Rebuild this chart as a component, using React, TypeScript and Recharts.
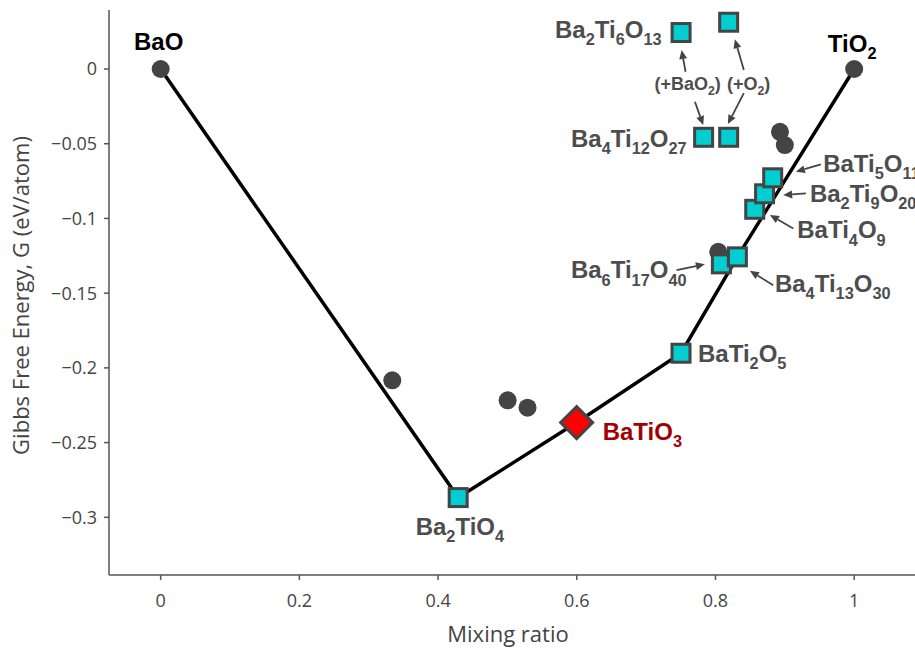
import React from "react";
import { ComposedChart, Scatter, XAxis, YAxis, ReferenceDot } from "recharts";

// convex hull (stable phases), ordered by mixing ratio
const hullNames = ["BaO", "Ba2TiO4", "BaTiO3", "BaTi2O5", "Ba4Ti13O30", "TiO2"];
const hullX = [0, 0.429, 0.5998, 0.7503, 0.8316, 1];
const hullG = [0, -0.2868, -0.2366, -0.1902, -0.1257, 0];

// end members + unlabeled phases (grey circles)
const circleNames = ["BaO", "TiO2", "c1", "c2", "c3", "c4", "c5", "c6"];
const circleX = [0, 1, 0.334, 0.5003, 0.529, 0.804, 0.893, 0.9];
const circleG = [0, 0, -0.2083, -0.2217, -0.2266, -0.1223, -0.042, -0.0509];

// Ba-Ti-O compounds (cyan squares)
const squareNames = [
  "Ba2TiO4", "BaTi2O5", "Ba6Ti17O40", "Ba4Ti13O30", "BaTi4O9", "Ba2Ti9O20",
  "BaTi5O11", "Ba4Ti12O27", "Ba4Ti12O27b", "Ba2Ti6O13", "Ba2Ti6O13b",
];
const squareX = [0.429, 0.7503, 0.8085, 0.8316, 0.8566, 0.8708, 0.8825, 0.7829, 0.819, 0.7504, 0.819];
const squareG = [-0.2868, -0.1902, -0.1304, -0.1257, -0.0939, -0.0835, -0.0728, -0.0457, -0.0457, 0.0244, 0.0313];

// target phase (red diamond)
const targetNames = ["BaTiO3"];
const targetX = [0.5998];
const targetG = [-0.2366];

const xTicks = [0, 0.2, 0.4, 0.6, 0.8, 1];
const yTicks = [-0.3, -0.25, -0.2, -0.15, -0.1, -0.05, 0];

const zip = (names: string[], xs: number[], gs: number[]) =>
  names.map((name, i) => ({ name, x: xs[i], g: gs[i] }));

const hull = zip(hullNames, hullX, hullG);
const circles = zip(circleNames, circleX, circleG);
const squares = zip(squareNames, squareX, squareG);
const targets = zip(targetNames, targetX, targetG);

const lookup: Record<string, { x: number; g: number }> = {};
[...circles, ...squares, ...targets].forEach((p) => (lookup[p.name] = p));

const GREY = "#444";
const LABEL = "#4d4d4d";

// annotation text, placed in px relative to the marker it belongs to
const labels = [
  { at: "BaO", text: "BaO", dx: -2, dy: -19, anchor: "middle", color: "#000", size: 24 },
  { at: "TiO2", text: "TiO_2", dx: -2, dy: -17, anchor: "middle", color: "#000", size: 24 },
  { at: "Ba2Ti6O13", text: "Ba_2Ti_6O_13", dx: -19.5, dy: 5, anchor: "end", color: LABEL, size: 24 },
  { at: "Ba2Ti6O13", text: "(+BaO_2)", dx: 6.5, dy: 57.5, anchor: "middle", color: LABEL, size: 18 },
  { at: "Ba2Ti6O13b", text: "(+O_2)", dx: 20, dy: 67.5, anchor: "middle", color: LABEL, size: 18 },
  { at: "Ba4Ti12O27", text: "Ba_4Ti_12O_27", dx: -17, dy: 9.5, anchor: "end", color: LABEL, size: 24 },
  { at: "BaTi5O11", text: "BaTi_5O_11", dx: 50.5, dy: -6, anchor: "start", color: LABEL, size: 24 },
  { at: "Ba2Ti9O20", text: "Ba_2Ti_9O_20", dx: 45.3, dy: 8, anchor: "start", color: LABEL, size: 24 },
  { at: "BaTi4O9", text: "BaTi_4O_9", dx: 42.5, dy: 29, anchor: "start", color: LABEL, size: 24 },
  { at: "Ba6Ti17O40", text: "Ba_6Ti_17O_40", dx: -34.8, dy: 14.5, anchor: "end", color: LABEL, size: 24 },
  { at: "Ba4Ti13O30", text: "Ba_4Ti_13O_30", dx: 37.5, dy: 35, anchor: "start", color: LABEL, size: 24 },
  { at: "BaTi2O5", text: "BaTi_2O_5", dx: 17, dy: 9, anchor: "start", color: LABEL, size: 24 },
  { at: "BaTiO3", text: "BaTiO_3", dx: 26, dy: 17, anchor: "start", color: "#a00000", size: 24 },
  { at: "Ba2TiO4", text: "Ba_2TiO_4", dx: 1.7, dy: 37.7, anchor: "middle", color: LABEL, size: 24 },
];

// arrows: tail (from) -> head (to), px relative to the marker
const arrows = [
  { at: "Ba2Ti6O13", from: [4.5, 39.2], to: [0.5, 17.5] },
  { at: "Ba4Ti12O27", from: [-8.7, -35.5], to: [-0.4, -12.2] },
  { at: "Ba2Ti6O13b", from: [15.2, 47.7], to: [6.2, 17] },
  { at: "Ba4Ti12O27b", from: [15.2, -44.2], to: [-0.8, -13.2] },
  { at: "BaTi5O11", from: [48.2, -13.4], to: [23.2, -6] },
  { at: "Ba2Ti9O20", from: [41.3, -0.4], to: [18.6, 1.3] },
  { at: "BaTi4O9", from: [38.5, 19.1], to: [15.2, 5.8] },
  { at: "Ba6Ti17O40", from: [-44.8, 6.2], to: [-16.5, 0.5] },
  { at: "Ba4Ti13O30", from: [35.8, 28.3], to: [12.5, 14] },
];

function Formula({ x, y, text, size, color, anchor }: any) {
  const parts = text.split(/(_\d+)/).filter(Boolean);
  const shift = size * 0.3;
  let cur = 0;
  return (
    <text
      x={x}
      y={y}
      textAnchor={anchor}
      fontFamily="'Liberation Sans', Arial, sans-serif"
      fontWeight="bold"
      fontSize={size}
      fill={color}
    >
      {parts.map((p: string, i: number) => {
        const sub = p.startsWith("_");
        const target = sub ? shift : 0;
        const dy = target - cur;
        cur = target;
        return (
          <tspan key={i} dy={dy} fontSize={sub ? size * 0.68 : size}>
            {sub ? p.slice(1) : p}
          </tspan>
        );
      })}
    </text>
  );
}

function Arrow({ cx, cy, from, to }: any) {
  const x1 = cx + from[0];
  const y1 = cy + from[1];
  const x2 = cx + to[0];
  const y2 = cy + to[1];
  const a = Math.atan2(y2 - y1, x2 - x1);
  const c = Math.cos(a);
  const s = Math.sin(a);
  const bx = x2 - 9 * c;
  const by = y2 - 9 * s;
  return (
    <g>
      <line x1={x1} y1={y1} x2={bx} y2={by} stroke={GREY} strokeWidth={1.8} />
      <polygon
        points={`${x2},${y2} ${bx - 4 * s},${by + 4 * c} ${bx + 4 * s},${by - 4 * c}`}
        fill={GREY}
      />
    </g>
  );
}

const fmt = (v: number) => (v === 0 ? "0" : v < 0 ? "\u2212" + String(Math.abs(v)) : String(v));

const tickStyle = { fill: GREY, fontSize: 18, fontFamily: "'Open Sans', sans-serif" };

export default function App() {
  return (
    <div style={{ position: "absolute", left: 0, top: 0 }}>
      <ComposedChart width={915} height={654} margin={{ top: 10, right: 0, bottom: 0, left: 0 }}>
        <XAxis
          type="number"
          dataKey="x"
          domain={[-0.0745, 1.0877]}
          ticks={xTicks}
          allowDataOverflow
          height={79}
          tickSize={5}
          tickMargin={14}
          tick={tickStyle}
          tickFormatter={fmt}
          stroke="#555"
          strokeWidth={1.5}
          label={{
            content: ({ viewBox }: any) => (
              <text
                x={viewBox.x + viewBox.width / 2 - 4}
                y={viewBox.y + 67}
                textAnchor="middle"
                fill={GREY}
                fontSize={22}
                fontFamily="'Open Sans', sans-serif"
              >
                Mixing ratio
              </text>
            ),
          }}
        />
        <YAxis
          type="number"
          dataKey="g"
          domain={[-0.3386, 0.03948]}
          ticks={yTicks}
          allowDataOverflow
          width={109}
          tickSize={5}
          tickMargin={7}
          tick={tickStyle}
          tickFormatter={fmt}
          stroke="#555"
          strokeWidth={1.5}
          label={{
            content: ({ viewBox }: any) => {
              const x = viewBox.x + 29;
              const y = viewBox.y + viewBox.height / 2 + 3;
              return (
                <text
                  x={x}
                  y={y}
                  transform={`rotate(-90, ${x}, ${y})`}
                  textAnchor="middle"
                  fill={GREY}
                  fontSize={22}
                  fontFamily="'Open Sans', sans-serif"
                >
                  Gibbs Free Energy, G (eV/atom)
                </text>
              );
            },
          }}
        />
        <Scatter
          data={hull}
          line={{ stroke: "#000", strokeWidth: 3.5 }}
          shape={() => <g />}
          isAnimationActive={false}
          legendType="none"
        />
        <Scatter
          data={circles}
          shape={(p: any) => <circle cx={p.cx} cy={p.cy} r={9} fill={GREY} />}
          isAnimationActive={false}
          legendType="none"
        />
        <Scatter
          data={squares}
          shape={(p: any) => (
            <rect x={p.cx - 9} y={p.cy - 9} width={18} height={18} fill="#00ced1" stroke={GREY} strokeWidth={3} />
          )}
          isAnimationActive={false}
          legendType="none"
        />
        <Scatter
          data={targets}
          shape={(p: any) => (
            <polygon
              points={`${p.cx},${p.cy - 16} ${p.cx + 16},${p.cy} ${p.cx},${p.cy + 16} ${p.cx - 16},${p.cy}`}
              fill="#ff0000"
              stroke={GREY}
              strokeWidth={3}
            />
          )}
          isAnimationActive={false}
          legendType="none"
        />
        {arrows.map((a, i) => (
          <ReferenceDot
            key={"a" + i}
            x={lookup[a.at].x}
            y={lookup[a.at].g}
            r={0}
            ifOverflow="visible"
            shape={(p: any) => <Arrow cx={p.cx} cy={p.cy} from={a.from} to={a.to} />}
          />
        ))}
        {labels.map((l, i) => (
          <ReferenceDot
            key={"l" + i}
            x={lookup[l.at].x}
            y={lookup[l.at].g}
            r={0}
            ifOverflow="visible"
            shape={(p: any) => (
              <Formula x={p.cx + l.dx} y={p.cy + l.dy} text={l.text} size={l.size} color={l.color} anchor={l.anchor} />
            )}
          />
        ))}
      </ComposedChart>
    </div>
  );
}
